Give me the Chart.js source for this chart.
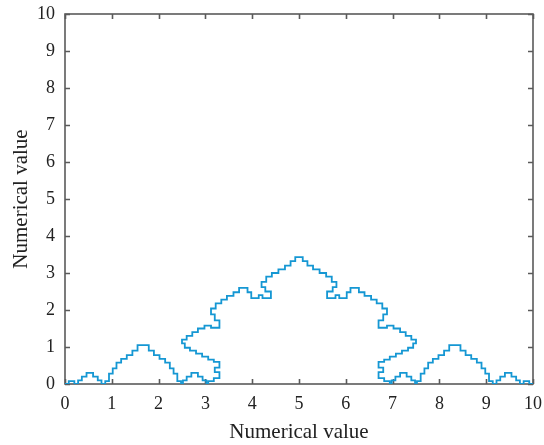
<!DOCTYPE html>
<html>
<head>
<meta charset="utf-8">
<script src="https://cdn.jsdelivr.net/npm/chart.js@4/dist/chart.umd.min.js"></script>
<style>
html,body{margin:0;padding:0;background:#fff;}
#wrap{width:544px;height:445px;position:relative;}
</style>
</head>
<body>
<div id="wrap"><canvas id="c" width="544" height="445"></canvas></div>
<script>
// Axis ticks
const xTicks = [0,1,2,3,4,5,6,7,8,9,10];
const yTicks = [0,1,2,3,4,5,6,7,8,9,10];
const xTitle = 'Numerical value';
const yTitle = 'Numerical value';

// Curve vertices [x, y], left to right
const leftSmall = [[0,0],[0.08,0],[0.08,0.08],[0.2,0.08],[0.2,0],[0.28,0],[0.28,0.1],[0.36,0.1],[0.36,0.2],[0.46,0.2],[0.46,0.3],[0.6,0.3],[0.6,0.2],[0.7,0.2],[0.7,0.1],[0.78,0.1],[0.78,0]];
const leftBump = [[0.86,0],[0.86,0.08],[0.94,0.08],[0.94,0.28],[1.02,0.28],[1.02,0.42],[1.1,0.42],[1.1,0.58],[1.2,0.58],[1.2,0.68],[1.32,0.68],[1.32,0.78],[1.44,0.78],[1.44,0.9],[1.55,0.9],[1.55,1.05],[1.79,1.05],[1.79,0.9],[1.9,0.9],[1.9,0.78],[2.02,0.78],[2.02,0.68],[2.14,0.68],[2.14,0.58],[2.24,0.58],[2.24,0.42],[2.32,0.42],[2.32,0.28],[2.4,0.28],[2.4,0.08],[2.48,0.08],[2.48,0]];
const leftInner = [[2.52,0],[2.52,0.1],[2.6,0.1],[2.6,0.2],[2.7,0.2],[2.7,0.3],[2.84,0.3],[2.84,0.2],[2.94,0.2],[2.94,0.1],[3.02,0.1],[3.02,0]];
const mountainLeft = [[3.06,0],[3.06,0.08],[3.18,0.08],[3.18,0.16],[3.3,0.16],[3.3,0.32],[3.2,0.32],[3.2,0.44],[3.3,0.44],[3.3,0.6],[3.18,0.6],[3.18,0.66],[3.06,0.66],[3.06,0.74],[2.93,0.74],[2.93,0.82],[2.8,0.82],[2.8,0.9],[2.67,0.9],[2.67,0.98],[2.56,0.98],[2.56,1.1],[2.5,1.1],[2.5,1.2],[2.6,1.2],[2.6,1.3],[2.72,1.3],[2.72,1.4],[2.84,1.4],[2.84,1.5],[2.98,1.5],[2.98,1.58],[3.12,1.58],[3.12,1.52],[3.3,1.52],[3.3,1.72],[3.2,1.72],[3.2,1.88],[3.12,1.88],[3.12,2.04],[3.22,2.04],[3.22,2.18],[3.34,2.18],[3.34,2.28],[3.46,2.28],[3.46,2.38],[3.6,2.38],[3.6,2.48],[3.72,2.48],[3.72,2.6],[3.9,2.6],[3.9,2.48],[3.98,2.48],[3.98,2.32],[4.14,2.32],[4.14,2.4],[4.22,2.4],[4.22,2.32],[4.4,2.32],[4.4,2.5],[4.28,2.5],[4.28,2.62],[4.2,2.62],[4.2,2.76],[4.3,2.76],[4.3,2.9],[4.42,2.9],[4.42,3.0],[4.56,3.0],[4.56,3.1],[4.7,3.1],[4.7,3.2],[4.82,3.2],[4.82,3.32],[4.92,3.32],[4.92,3.43],[5.0,3.43]];
const mountainRight = [[5.08,3.43],[5.08,3.32],[5.18,3.32],[5.18,3.2],[5.3,3.2],[5.3,3.1],[5.44,3.1],[5.44,3.0],[5.58,3.0],[5.58,2.9],[5.7,2.9],[5.7,2.76],[5.8,2.76],[5.8,2.62],[5.72,2.62],[5.72,2.5],[5.6,2.5],[5.6,2.32],[5.78,2.32],[5.78,2.4],[5.86,2.4],[5.86,2.32],[6.02,2.32],[6.02,2.48],[6.1,2.48],[6.1,2.6],[6.28,2.6],[6.28,2.48],[6.4,2.48],[6.4,2.38],[6.54,2.38],[6.54,2.28],[6.66,2.28],[6.66,2.18],[6.78,2.18],[6.78,2.04],[6.88,2.04],[6.88,1.88],[6.8,1.88],[6.8,1.72],[6.7,1.72],[6.7,1.52],[6.88,1.52],[6.88,1.58],[7.02,1.58],[7.02,1.5],[7.16,1.5],[7.16,1.4],[7.28,1.4],[7.28,1.3],[7.4,1.3],[7.4,1.2],[7.5,1.2],[7.5,1.1],[7.44,1.1],[7.44,0.98],[7.33,0.98],[7.33,0.9],[7.2,0.9],[7.2,0.82],[7.07,0.82],[7.07,0.74],[6.94,0.74],[6.94,0.66],[6.82,0.66],[6.82,0.6],[6.7,0.6],[6.7,0.44],[6.8,0.44],[6.8,0.32],[6.7,0.32],[6.7,0.16],[6.82,0.16],[6.82,0.08],[6.94,0.08],[6.94,0]];
const rightInner = [[6.98,0],[6.98,0.1],[7.06,0.1],[7.06,0.2],[7.16,0.2],[7.16,0.3],[7.3,0.3],[7.3,0.2],[7.4,0.2],[7.4,0.1],[7.48,0.1],[7.48,0]];
const rightBump = [[7.52,0],[7.52,0.08],[7.6,0.08],[7.6,0.28],[7.68,0.28],[7.68,0.42],[7.76,0.42],[7.76,0.58],[7.86,0.58],[7.86,0.68],[7.98,0.68],[7.98,0.78],[8.1,0.78],[8.1,0.9],[8.21,0.9],[8.21,1.05],[8.45,1.05],[8.45,0.9],[8.56,0.9],[8.56,0.78],[8.68,0.78],[8.68,0.68],[8.8,0.68],[8.8,0.58],[8.9,0.58],[8.9,0.42],[8.98,0.42],[8.98,0.28],[9.06,0.28],[9.06,0.08],[9.14,0.08],[9.14,0]];
const rightSmall = [[9.22,0],[9.22,0.1],[9.3,0.1],[9.3,0.2],[9.4,0.2],[9.4,0.3],[9.54,0.3],[9.54,0.2],[9.64,0.2],[9.64,0.1],[9.72,0.1],[9.72,0],[9.8,0],[9.8,0.08],[9.92,0.08],[9.92,0],[10,0]];

const sections = [leftSmall, leftBump, leftInner, mountainLeft, mountainRight, rightInner, rightBump, rightSmall];
const points = [];
sections.forEach(s => s.forEach(p => points.push({x: p[0], y: p[1]})));

const serif = '"Liberation Serif", "DejaVu Serif", serif';
const axisColor = '#5a5a5a';

const boxPlugin = {
  id: 'box',
  beforeDatasetsDraw(chart) {
    const {ctx, chartArea: a, scales} = chart;
    ctx.save();
    ctx.strokeStyle = axisColor;
    ctx.lineWidth = 1.6;
    ctx.strokeRect(a.left, a.top, a.right - a.left, a.bottom - a.top);
    const tl = 5;
    ctx.beginPath();
    xTicks.forEach(v => {
      const px = Math.round(scales.x.getPixelForValue(v)) + 0.5;
      ctx.moveTo(px, a.bottom); ctx.lineTo(px, a.bottom - tl);
      ctx.moveTo(px, a.top); ctx.lineTo(px, a.top + tl);
    });
    yTicks.forEach(v => {
      const py = Math.round(scales.y.getPixelForValue(v)) + 0.5;
      ctx.moveTo(a.left, py); ctx.lineTo(a.left + tl, py);
      ctx.moveTo(a.right, py); ctx.lineTo(a.right - tl, py);
    });
    ctx.stroke();
    ctx.restore();
  }
};

function zeroPad(s) { s.paddingLeft = 0; s.paddingRight = 0; s.paddingTop = 0; s.paddingBottom = 0; }

new Chart(document.getElementById('c'), {
  type: 'scatter',
  data: {
    datasets: [{
      data: points,
      showLine: true,
      borderColor: '#1597d3',
      borderWidth: 1.8,
      pointRadius: 0,
      fill: false,
      tension: 0
    }]
  },
  options: {
    responsive: false,
    animation: false,
    layout: {padding: {top: 14, right: 11, left: 0, bottom: 0}},
    plugins: {legend: {display: false}, tooltip: {enabled: false}},
    scales: {
      x: {
        type: 'linear', min: 0, max: 10,
        afterBuildTicks: s => { s.ticks = xTicks.map(v => ({value: v})); },
        afterFit: s => { s.height = 61; zeroPad(s); },
        grid: {display: false, drawTicks: false},
        border: {display: false},
        ticks: {color: '#222', font: {family: serif, size: 18}, padding: 9, maxRotation: 0},
        title: {display: true, text: xTitle, color: '#222', font: {family: serif, size: 21}, padding: {top: 0, bottom: 0}}
      },
      y: {
        type: 'linear', min: 0, max: 10,
        afterBuildTicks: s => { s.ticks = yTicks.map(v => ({value: v})); },
        afterFit: s => { s.width = 65; zeroPad(s); },
        grid: {display: false, drawTicks: false},
        border: {display: false},
        ticks: {color: '#222', font: {family: serif, size: 18}, padding: 10},
        title: {display: true, text: yTitle, color: '#222', font: {family: serif, size: 21}, padding: {top: 9, bottom: 0}}
      }
    }
  },
  plugins: [boxPlugin]
});
</script>
</body>
</html>
